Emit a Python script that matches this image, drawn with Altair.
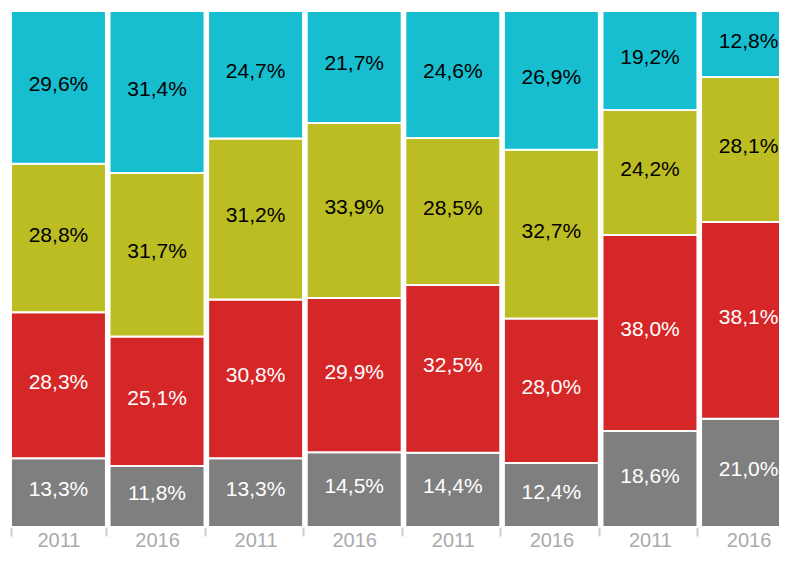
import altair as alt
import pandas as pd

bars = ["A-2011", "A-2016", "B-2011", "B-2016", "C-2011", "C-2016", "D-2011", "D-2016"]
segments = ["gray", "red", "olive", "cyan"]
gray = [13.3, 11.8, 13.3, 14.5, 14.4, 12.4, 18.6, 21.0]
red = [28.3, 25.1, 30.8, 29.9, 32.5, 28.0, 38.0, 38.1]
olive = [28.8, 31.7, 31.2, 33.9, 28.5, 32.7, 24.2, 28.1]
cyan = [29.6, 31.4, 24.7, 21.7, 24.6, 26.9, 19.2, 12.8]
colors = ["#7f7f7f", "#d62728", "#bcbd22", "#17becf"]
text_colors = ["white", "white", "black", "black"]

rows = []
for si, (seg, vals) in enumerate(zip(segments, [gray, red, olive, cyan])):
    for b, v in zip(bars, vals):
        rows.append({
            "bar": b, "seg": seg, "order": si, "value": v,
            "label": f"{v:.1f}".replace(".", ",") + "%",
            "tc": text_colors[si],
        })
df = pd.DataFrame(rows)

FONT = "Liberation Sans, Arial, sans-serif"

base = alt.Chart(df).transform_stack(
    stack="value", groupby=["bar"], sort=[alt.SortField("order")], as_=["y0", "y1"]
).transform_calculate(mid="(datum.y0 + datum.y1) / 2")

x = alt.X(
    "bar:N", sort=bars,
    scale=alt.Scale(paddingInner=0.0365, paddingOuter=0.03, range=[0, 791]),
    axis=alt.Axis(
        title=None, labelExpr="split(datum.label, '-')[1]", tickBand="extent",
        domain=False, ticks=True, tickColor="#cccccc", tickWidth=2, tickSize=9,
        labelPadding=10.5, labelBaseline="alphabetic", labelFont=FONT,
        labelFontSize=20, labelColor="#aaaaaa", labelAngle=0, grid=False,
    ),
)
yscale = alt.Scale(domain=[0, 100], nice=False, zero=True)

bar_layer = base.mark_bar(stroke="white", strokeWidth=2).encode(
    x=x,
    y=alt.Y("y0:Q", scale=yscale, axis=None),
    y2="y1:Q",
    color=alt.Color("seg:N", scale=alt.Scale(domain=segments, range=colors), legend=None),
)

text_layer = base.mark_text(font=FONT, fontSize=21, dy=-2.5).encode(
    x=x,
    y=alt.Y("mid:Q", scale=yscale, axis=None),
    text="label:N",
    color=alt.Color("tc:N", scale=None),
)

chart = alt.layer(bar_layer, text_layer).properties(
    width=771, height=516,
    padding={"left": 0, "top": 3, "right": 0, "bottom": 24},
    autosize=alt.AutoSizeParams(type="none"),
).configure_view(stroke=None)

chart.save("out.html", embed_options={"renderer": "svg", "actions": False})
